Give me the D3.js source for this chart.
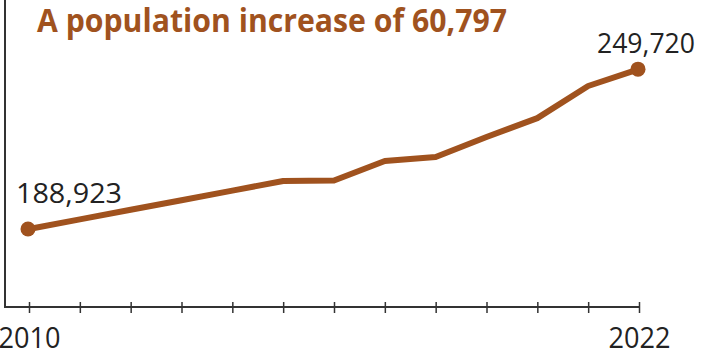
<!DOCTYPE html>
<html lang="en">
<head>
    <meta charset="UTF-8">
    <title>Population increase</title>
    <script src="https://cdnjs.cloudflare.com/ajax/libs/d3/7.8.5/d3.min.js"></script>
    <style>
        body {
            margin: 0;
            background: #fff;
            font-family: 'Open Sans', sans-serif;
        }
        svg { display: block; }
    </style>
</head>
<body>
    <div id="chart"></div>

    <script>
        // Population by year
        const years = [2010, 2011, 2012, 2013, 2014, 2015, 2016, 2017, 2018, 2019, 2020, 2021, 2022];
        const population = [188923, 192600, 196250, 199900, 203540, 207190, 207400, 214800, 216300, 223900, 231100, 243300, 249720];
        const labelledYears = [2010, 2022];
        const title = "A population increase of 60,797";

        const width = 708, height = 354;
        const brown = "#a0521e";
        const ink = "#222";

        const svg = d3.select("#chart").append("svg")
            .attr("width", width)
            .attr("height", height);

        const axisY = 307;   // baseline of the x axis
        const axisX = 5;     // left vertical line

        const x = d3.scaleLinear()
            .domain([2010, 2022])
            .range([29, 639]);

        const y = d3.scaleLinear()
            .domain([159300, 276000])
            .range([axisY, 0]);

        const data = years.map((yr, i) => ({ year: yr, value: population[i] }));

        // Axes
        svg.append("line")
            .attr("x1", axisX).attr("x2", axisX)
            .attr("y1", 0).attr("y2", axisY)
            .attr("stroke", "#333")
            .attr("stroke-width", 2);

        svg.append("line")
            .attr("x1", axisX - 1).attr("x2", x(2022))
            .attr("y1", axisY).attr("y2", axisY)
            .attr("stroke", "#333")
            .attr("stroke-width", 2);

        const xAxis = svg.append("g")
            .attr("transform", `translate(0,${axisY})`)
            .call(d3.axisBottom(x)
                .tickValues(years)
                .tickSize(6)
                .tickPadding(12)
                .tickFormat(d => labelledYears.includes(d) ? d : ""));

        xAxis.select(".domain").remove();
        xAxis.selectAll(".tick line")
            .attr("y1", -5)
            .attr("stroke", "#333")
            .attr("stroke-width", 1.5);
        xAxis.selectAll(".tick text")
            .attr("fill", ink)
            .attr("font-family", "'Open Sans', sans-serif")
            .attr("font-size", 30)
            .attr("dy", null)
            .attr("y", 41)
            .attr("textLength", d => labelledYears.includes(d) ? 62 : null)
            .attr("lengthAdjust", "spacingAndGlyphs");

        // Line
        const line = d3.line()
            .x(d => x(d.year))
            .y(d => y(d.value));

        svg.append("path")
            .datum(data)
            .attr("fill", "none")
            .attr("stroke", brown)
            .attr("stroke-width", 6)
            .attr("stroke-linejoin", "round")
            .attr("d", line);

        // End points
        const ends = [data[0], data[data.length - 1]];
        svg.selectAll(".end")
            .data(ends)
            .enter()
            .append("circle")
            .attr("class", "end")
            .attr("cx", d => x(d.year) - 1)
            .attr("cy", d => y(d.value))
            .attr("r", 7.5)
            .attr("fill", brown);

        // Value labels
        const fmt = d3.format(",");
        svg.append("text")
            .attr("x", 16)
            .attr("y", y(ends[0].value) - 26)
            .attr("fill", ink)
            .attr("font-size", 28)
            .attr("textLength", 106)
            .attr("lengthAdjust", "spacingAndGlyphs")
            .text(fmt(ends[0].value));

        svg.append("text")
            .attr("x", 597)
            .attr("y", y(ends[1].value) - 16)
            .attr("fill", ink)
            .attr("font-size", 28)
            .attr("textLength", 98)
            .attr("lengthAdjust", "spacingAndGlyphs")
            .text(fmt(ends[1].value));

        // Title
        svg.append("text")
            .attr("x", 37)
            .attr("y", 32)
            .attr("fill", brown)
            .attr("font-size", 33)
            .attr("font-weight", "bold")
            .attr("textLength", 470)
            .attr("lengthAdjust", "spacingAndGlyphs")
            .text(title);
    </script>
</body>
</html>
